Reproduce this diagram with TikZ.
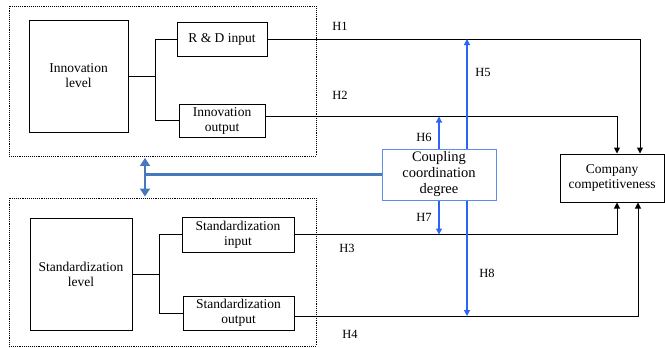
\documentclass[tikz,border=0pt]{standalone}
\usepackage{fontspec}
\setmainfont{Liberation Serif}
\usetikzlibrary{arrows.meta,positioning}

\definecolor{linkblue}{RGB}{45,100,245}
\definecolor{fatblue}{RGB}{70,120,190}
\definecolor{coupblue}{RGB}{95,140,235}

\begin{document}
\begin{tikzpicture}[
    x=1pt, y=-1pt,
    box/.style={rectangle, draw, line width=1pt, align=center, inner sep=1pt,
        font=\fontsize{13.5}{15}\selectfont},
    group/.style={rectangle, draw, densely dotted, line width=0.9pt},
    hlab/.style={font=\fontsize{12.5}{14}\selectfont},
    arr/.style={line width=1pt, -{Triangle[length=6pt,width=6pt]}},
    barr/.style={line width=1.2pt, linkblue, -{Triangle[length=6pt,width=6pt]}},
    fat/.style={line width=2.8pt, fatblue}
]
\useasboundingbox (0,0) rectangle (665,348);

% Groups
\node[group, minimum width=307pt, minimum height=150pt] (innbox) at (162.5,81) {};
\node[group, minimum width=307pt, minimum height=148pt] (stdbox) at (162.5,272) {};

% Innovation side
\node[box, minimum width=99pt, minimum height=112pt] (innov) at (78.5,76) {Innovation\\level};
\node[box, minimum width=90pt, minimum height=34pt] (rnd) at (222,39) {R \& D input};
\node[box, minimum width=86pt, minimum height=33pt] (innout) at (222,120.5) {Innovation\\output};

% Standardization side
\node[box, minimum width=102pt, minimum height=112pt] (std) at (81,274) {Standardization\\level};
\node[box, minimum width=112pt, minimum height=35pt] (stdin) at (238,234.5) {Standardization\\input};
\node[box, minimum width=111pt, minimum height=34pt] (stdout) at (238.5,313) {Standardization\\output};

% Coupling and outcome
\node[box, draw=coupblue, font=\fontsize{14.5}{16}\selectfont, minimum width=114pt, minimum height=51pt] (coup) at (439,174.5) {Coupling\\coordination\\degree};
\node[box, minimum width=104pt, minimum height=48pt] (comp) at (612,178) {Company\\competitiveness};

% Branches inside the groups
\draw[line width=1pt] (innov.east) -- ++(27,0) coordinate (ij);
\draw[line width=1pt] (rnd.west) -| (ij) |- (innout.west);
\draw[line width=1pt] (std.east) -- ++(27,0) coordinate (sj);
\draw[line width=1pt] (stdin.west) -| (sj) |- (stdout.west);

% Hypothesis paths
\coordinate (h2line) at ([yshift=4pt]innout.east);
\coordinate (h4line) at ([yshift=-3pt]stdout.east);
\draw[arr] (rnd.east) -| ([xshift=28pt]comp.north);
\draw[arr] (h2line) -| ([xshift=5pt]comp.north);
\draw[arr] (stdin.east) -| ([xshift=5pt]comp.south);
\draw[arr] (h4line) -| ([xshift=26pt]comp.south);

% Moderating paths
\draw[barr] ([xshift=28pt]coup.north) -- ([xshift=28pt]coup.north |- rnd.east);
\draw[barr] (coup.north) -- (coup.north |- h2line);
\draw[barr] (coup.south) -- (coup.south |- stdin.east);
\draw[barr] ([xshift=28pt]coup.south) -- ([xshift=28pt]coup.south |- h4line);

% Link between the groups
\coordinate (bj) at ([xshift=-17.5pt]innbox.south |- coup.west);
\draw[fat, {Triangle[length=8pt,width=10pt]}-{Triangle[length=8pt,width=10pt]}]
    ([xshift=-17.5pt,yshift=-1.5pt]innbox.south) -- ([xshift=-17.5pt,yshift=1pt]stdbox.north);
\draw[fat] (coup.west) -- (bj);

% Labels
\node[hlab] (l1) at (340,26) {H1};
\node[hlab] (l2) at (340,95) {H2};
\node[hlab] (l3) at (347,248) {H3};
\node[hlab] (l4) at (350,334) {H4};
\node[hlab] (l5) at (483,72) {H5};
\node[hlab] (l6) at (424,137) {H6};
\node[hlab] (l7) at (424,217) {H7};
\node[hlab] (l8) at (487,273) {H8};

\end{tikzpicture}
\end{document}
